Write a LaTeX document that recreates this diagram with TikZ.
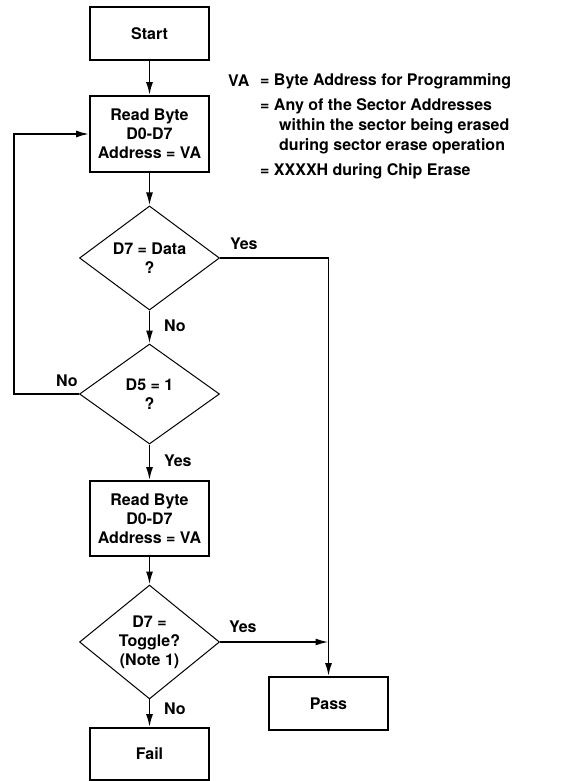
\documentclass[tikz,border=0pt]{standalone}
\usepackage{fontspec}
\setmainfont{TeX Gyre Heros}
\usetikzlibrary{arrows.meta,shapes.geometric}

\begin{document}
\begin{tikzpicture}[x=1pt,y=-1pt,
  every node/.style={font=\bfseries\fontsize{16}{19}\selectfont, inner sep=0pt},
  fc_box/.style={draw, line width=1.8pt, minimum width=119pt, align=center},
  fc_dec/.style={draw, shape=diamond, line width=1pt, minimum width=140pt, minimum height=100pt, align=center},
  fc_lnk/.style={line width=1.8pt, -{Latex[length=13pt,width=7pt]}},
  fc_lbl/.style={anchor=west}]
\useasboundingbox (0,0) rectangle (566,781);
\node[fc_box, minimum height=53pt] (start_bx) at (149.5,33.5) {Start};
\node[fc_box, minimum height=76pt] (read_a) at (149.5,134) {Read Byte\\D0-D7\\Address = VA};
\node[fc_dec, minimum height=102pt] (dec_data) at (149.5,258) {D7 = Data\\?};
\node[fc_dec] (dec_d5) at (149.5,394) {D5 = 1\\?};
\node[fc_box, minimum height=75pt] (read_b) at (149.5,518.5) {Read Byte\\D0-D7\\Address = VA};
\node[fc_dec] (dec_tgl) at (149.5,642) {D7 =\\Toggle?\\(Note 1)};
\node[fc_box, minimum height=53pt] (pass_bx) at (328.5,703.5) {Pass};
\node[fc_box, minimum height=52pt] (fail_bx) at (149.5,754) {Fail};

\node[fc_lbl] (va_key) at (228,81) {VA};
\node[fc_lbl] (va_prog) at (260,81) {= Byte Address for Programming};
\node[fc_lbl] (va_sect) at (260,106) {= Any of the Sector Addresses};
\node[fc_lbl] (va_sect2) at (279,126) {within the sector being erased};
\node[fc_lbl] (va_sect3) at (279,146) {during sector erase operation};
\node[fc_lbl] (va_chip) at (260,171) {= XXXXH during Chip Erase};

\node[fc_lbl] (yes_data) at (230,244) {Yes};
\node[fc_lbl] (no_data) at (164,326) {No};
\node[fc_lbl] (no_d5) at (56,381) {No};
\node[fc_lbl] (yes_d5) at (164,461) {Yes};
\node[fc_lbl] (yes_tgl) at (229,627) {Yes};
\node[fc_lbl] (no_tgl) at (164,709) {No};

\coordinate (loop_c) at (14,394);
\coordinate (join_c) at (pass_bx.north |- dec_tgl.east);
\draw[fc_lnk] (start_bx) -- (read_a);
\draw[fc_lnk] (read_a) -- (dec_data);
\draw[fc_lnk] (dec_data) -- (dec_d5);
\draw[fc_lnk] (dec_d5.west) -- (loop_c) |- (read_a.west);
\draw[fc_lnk] (dec_d5) -- (read_b);
\draw[fc_lnk] (read_b) -- (dec_tgl);
\draw[fc_lnk] (dec_tgl) -- (fail_bx);
\draw[fc_lnk] (dec_data.east) -| (pass_bx.north);
\draw[fc_lnk] (dec_tgl.east) -- (join_c);
\end{tikzpicture}
\end{document}
